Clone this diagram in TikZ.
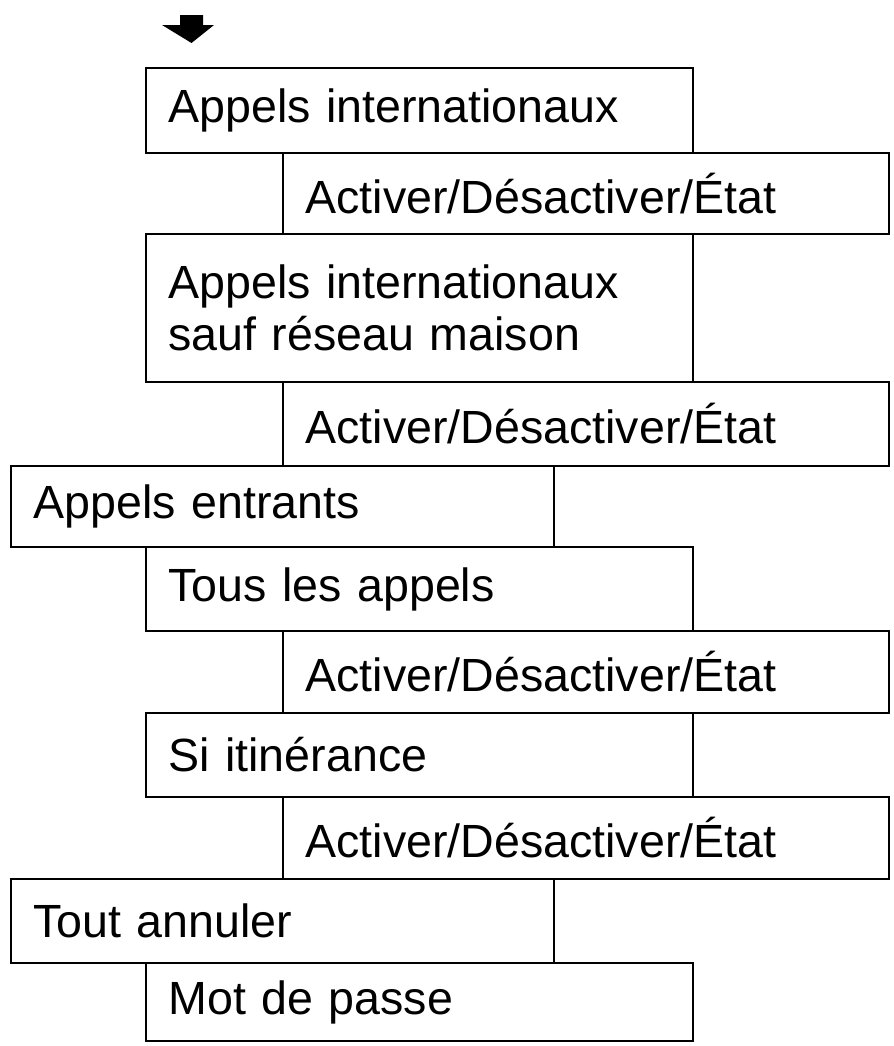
\documentclass[tikz,border=0pt]{standalone}
\usepackage{fontspec}
\setmainfont{Liberation Sans}
\tikzset{
  menubox/.style 2 args={draw, line width=1.1pt, anchor=north west, align=left,
    minimum width=#1cm, text width=#1cm-0.9cm, minimum height=#2cm,
    inner xsep=0.4cm, font=\fontsize{26.5}{30}\selectfont},
}
\begin{document}
\begin{tikzpicture}
    \useasboundingbox (0,0) rectangle (17.86,-20.92);
    % entry mark
    \fill (3.6,-0.3) -- (4.06,-0.3) -- (4.06,-0.5) -- (4.28,-0.5) -- (3.83,-0.86)
        -- (3.24,-0.5) -- (3.6,-0.5) -- cycle;
    \node[menubox={10.94}{1.7}] (intl) at (2.9,-1.34) {Appels internationaux};
    \node[menubox={12.12}{1.62}] (intlset) at (5.64,-3.04) {Activer/Désactiver/État};
    \node[menubox={10.94}{2.96}] (intlhome) at (2.9,-4.66) {Appels internationaux\\sauf réseau maison};
    \node[menubox={12.12}{1.68}] (homeset) at (5.64,-7.62) {Activer/Désactiver/État};
    \node[menubox={10.86}{1.62}] (incoming) at (0.2,-9.3) {Appels entrants};
    \node[menubox={10.94}{1.68}] (allcalls) at (2.9,-10.92) {Tous les appels};
    \node[menubox={12.12}{1.64}] (allset) at (5.64,-12.6) {Activer/Désactiver/État};
    \node[menubox={10.94}{1.68}] (roaming) at (2.9,-14.24) {Si itinérance};
    \node[menubox={12.12}{1.64}] (roamset) at (5.64,-15.92) {Activer/Désactiver/État};
    \node[menubox={10.86}{1.68}] (cancel) at (0.2,-17.56) {Tout annuler};
    \node[menubox={10.94}{1.56}] (passwd) at (2.9,-19.24) {Mot de passe};
\end{tikzpicture}
\end{document}
